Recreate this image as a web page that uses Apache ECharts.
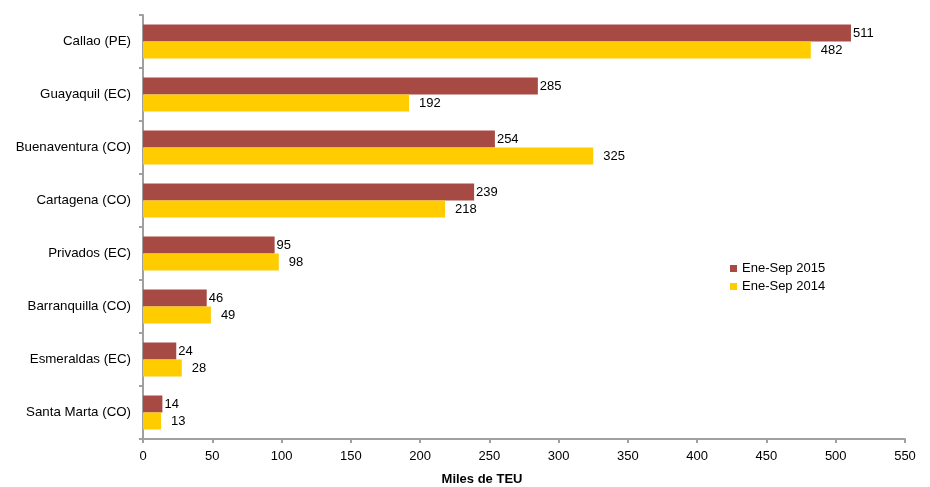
<!DOCTYPE html>
<html>
<head>
<meta charset="utf-8">
<script src="https://cdn.jsdelivr.net/npm/echarts@6/dist/echarts.min.js"></script>
<style>
html,body{margin:0;padding:0;background:#fff;}
#c{width:930px;height:487px;}
</style>
</head>
<body>
<div id="c"></div>
<script>
var categories = ['Callao (PE)', 'Guayaquil (EC)', 'Buenaventura (CO)', 'Cartagena (CO)', 'Privados (EC)', 'Barranquilla (CO)', 'Esmeraldas (EC)', 'Santa Marta (CO)'];
var seriesNames = ['Ene-Sep 2015', 'Ene-Sep 2014'];
var values2015 = [511, 285, 254, 239, 95, 46, 24, 14];
var values2014 = [482, 192, 325, 218, 98, 49, 28, 13];
var xTicks = [0, 50, 100, 150, 200, 250, 300, 350, 400, 450, 500, 550];

var FONT = 'Liberation Sans, Arial, sans-serif';
var chart = echarts.init(document.getElementById('c'));
chart.setOption({
  animation: false,
  textStyle: {fontFamily: FONT},
  grid: {left: 143, right: 25, top: 15, bottom: 48, containLabel: false, outerBoundsMode: 'none'},
  legend: {
    orient: 'vertical', left: 725, top: 257, itemWidth: 7, itemHeight: 7, itemGap: 5,
    icon: 'rect',
    textStyle: {fontFamily: FONT, fontSize: 13, color: '#000'},
    data: seriesNames
  },
  xAxis: {
    type: 'value', min: xTicks[0], max: xTicks[xTicks.length - 1], interval: 50,
    splitLine: {show: false},
    axisLine: {show: true, lineStyle: {color: '#a0a0a0', width: 2}},
    axisTick: {show: true, length: 4, lineStyle: {color: '#a0a0a0', width: 2}},
    axisLabel: {color: '#000', fontSize: 13, fontFamily: FONT, margin: 11},
    name: 'Miles de TEU', nameLocation: 'middle', nameGap: 34,
    nameTextStyle: {fontFamily: FONT, fontSize: 13, fontWeight: 'bold', color: '#000', padding: [0, 84, 0, 0]}
  },
  yAxis: {
    type: 'category', data: categories, inverse: true,
    axisLine: {show: true, lineStyle: {color: '#a0a0a0', width: 2}},
    axisTick: {show: true, length: 4, lineStyle: {color: '#a0a0a0', width: 2}},
    axisLabel: {color: '#000', fontSize: 13.3, fontFamily: FONT, margin: 12}
  },
  series: [
    {
      name: seriesNames[0], type: 'bar', data: values2015,
      barWidth: 17, barGap: '0%',
      itemStyle: {color: '#a84a44'},
      label: {show: true, position: 'right', distance: 2, color: '#000', fontSize: 13, fontFamily: FONT}
    },
    {
      name: seriesNames[1], type: 'bar', data: values2014,
      barWidth: 17, barGap: '0%',
      itemStyle: {color: '#ffcc00'},
      label: {show: true, position: 'right', distance: 10, color: '#000', fontSize: 13, fontFamily: FONT}
    }
  ]
});
</script>
</body>
</html>
